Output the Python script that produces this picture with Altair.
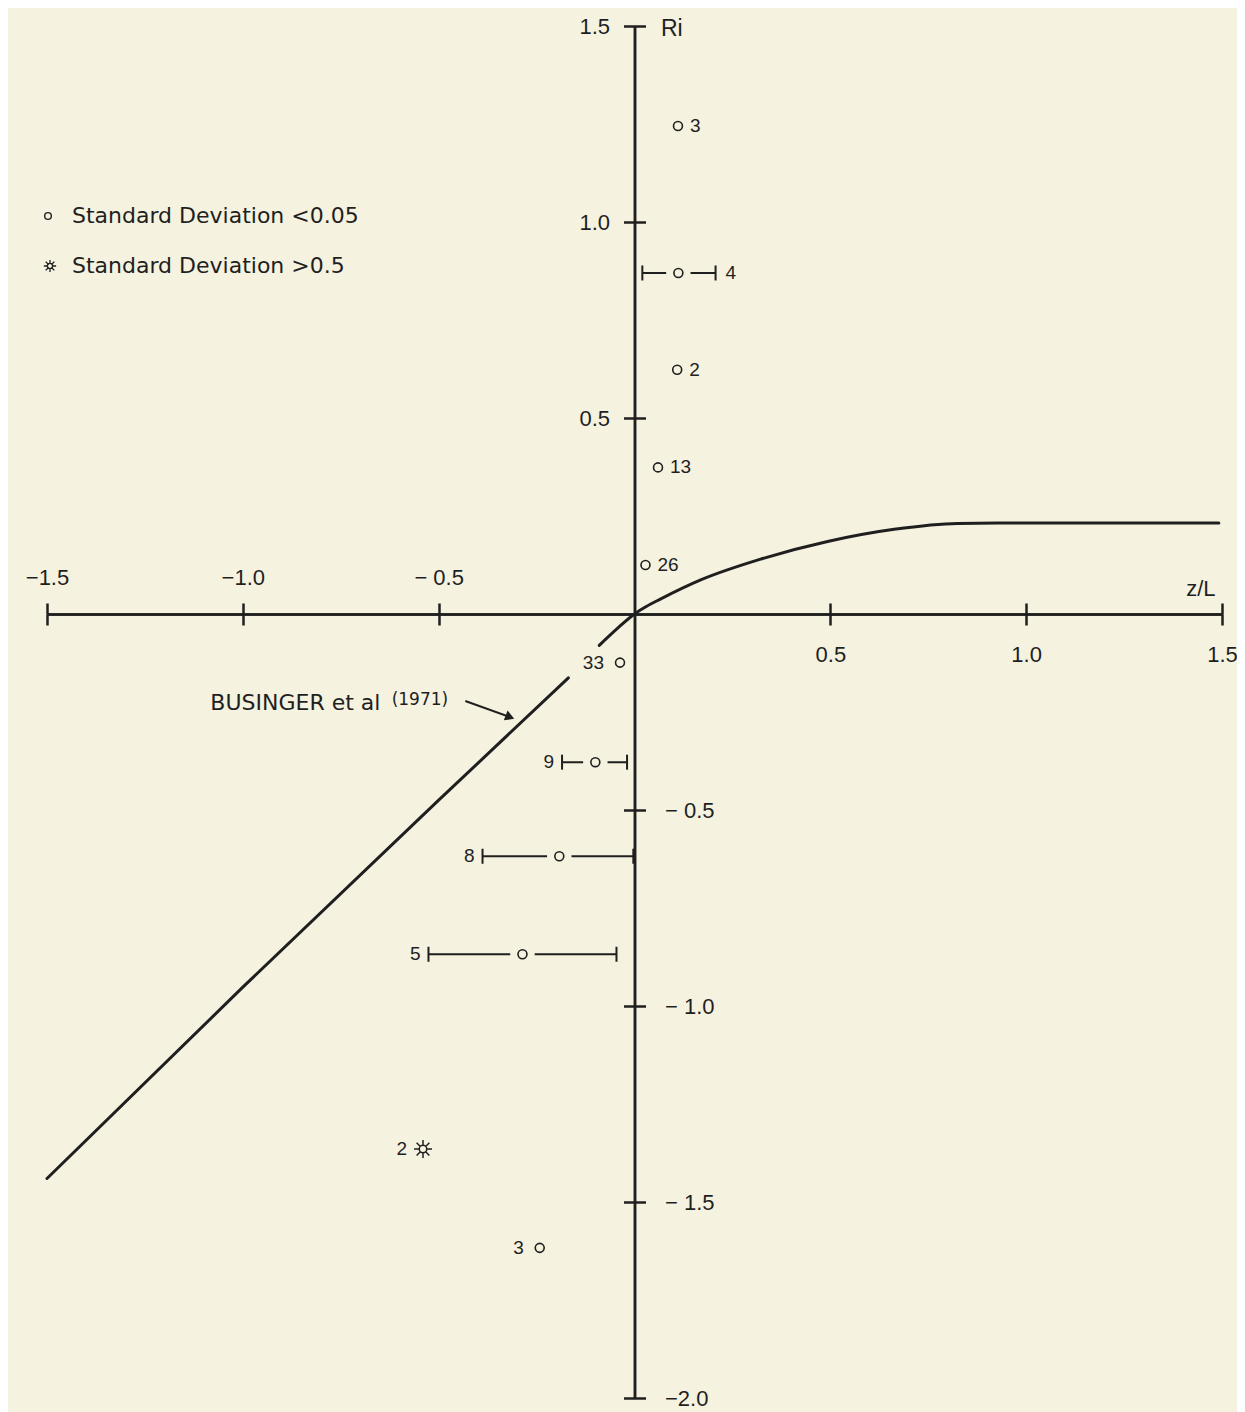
import altair as alt
import pandas as pd

BG = "#f5f2e0"
INK = "#1f1f1f"
NUM_FONT = "Liberation Sans"
TXT_FONT = "DejaVu Sans"

# ---- axis ticks / labels ----
x_tick_values = [-1.5, -1.0, -0.5, 0.5, 1.0, 1.5]
x_tick_labels = ["−1.5", "−1.0", "− 0.5", "0.5", "1.0", "1.5"]
y_tick_values = [1.5, 1.0, 0.5, -0.5, -1.0, -1.5, -2.0]
y_tick_labels = ["1.5", "1.0", "0.5", "− 0.5", "− 1.0", "− 1.5", "−2.0"]

# ---- observations (z/L, Ri) ----
run_ids = ["3", "4", "2", "13", "26", "33", "9", "8", "5", "2", "3"]
zL = [0.111, 0.112, 0.109, 0.060, 0.028, -0.037, -0.100, -0.192, -0.286, -0.540, -0.242]
Ri = [1.245, 0.870, 0.623, 0.374, 0.125, -0.124, -0.378, -0.618, -0.868, -1.365, -1.617]
zL_lo = [None, 0.020, None, None, None, None, -0.185, -0.388, -0.526, None, None]
zL_hi = [None, 0.207, None, None, None, None, -0.019, -0.003, -0.046, None, None]
std_class = ["low", "low", "low", "low", "low", "low", "low", "low", "low", "high", "low"]

# ---- Businger et al (1971) curve, traced (gap where label "33" sits) ----
curve_seg = ["a", "a", "a", "a", "b", "b", "b", "b", "b", "b", "b", "b", "b", "b", "b", "b"]
curve_x = [-1.5, -1.0, -0.5, -0.169, -0.09, -0.045, 0.0, 0.03, 0.066, 0.169, 0.322, 0.493, 0.663, 0.825, 1.0, 1.492]
curve_y = [-1.44, -0.952, -0.475, -0.163, -0.08, -0.038, 0.0, 0.019, 0.038, 0.087, 0.140, 0.185, 0.216, 0.231, 0.232, 0.232]

# ---- legend and annotation text ----
legend_labels = ["Standard Deviation <0.05", "Standard Deviation >0.5"]
ann_main = "BUSINGER et al"
ann_year = "(1971)"
ann_x = [-1.083]
ann_y = [-0.228]
year_x = [-0.62]
year_y = [-0.220]
arrow_x = [-0.432]
arrow_y = [-0.222]
arrow_x2 = [-0.318]
arrow_y2 = [-0.263]

STAR = ("M0.45,0L1,0M-0.45,0L-1,0M0,0.45L0,1M0,-0.45L0,-1"
        "M0.32,0.32L0.71,0.71M-0.32,-0.32L-0.71,-0.71"
        "M0.32,-0.32L0.71,-0.71M-0.32,0.32L-0.71,0.71"
        "M0.42,0A0.42,0.42 0 1,1 -0.42,0A0.42,0.42 0 1,1 0.42,0Z")

pts = pd.DataFrame({"run": run_ids, "zL": zL, "Ri": Ri, "lo": zL_lo, "hi": zL_hi, "cls": std_class})
pts["lo"] = pd.to_numeric(pts["lo"])
pts["hi"] = pd.to_numeric(pts["hi"])
pts["bar"] = pts["lo"].notna()
pts["anchor"] = pts["zL"]
pts.loc[(pts.zL > 0) & pts.bar, "anchor"] = pts["hi"]
pts.loc[(pts.zL < 0) & pts.bar, "anchor"] = pts["lo"]
bars = pts[pts.bar].copy()
caps = pd.concat([
    bars[["Ri"]].assign(cx=bars["lo"]),
    bars[["Ri"]].assign(cx=bars["hi"]),
])
curve = pd.DataFrame({"seg": curve_seg, "zL": curve_x, "Ri": curve_y})

W, H = 1175, 1372
xs = alt.Scale(domain=[-1.5, 1.5], nice=False, zero=False)
ys = alt.Scale(domain=[-2.0, 1.5], nice=False, zero=False)
ROW0 = H * 1.5 / 3.5   # pixel row of Ri = 0 (from top)
COL0 = W * 1.5 / 3.0   # pixel column of z/L = 0 (from left)


def label_expr(values, labels, keep):
    expr = "''"
    for v, l in reversed(list(zip(values, labels))):
        if keep(v):
            expr = f"datum.value == {v} ? '{l}' : ({expr})"
    return expr


common_axis = dict(
    domainColor=INK, domainWidth=2.5, tickColor=INK, tickWidth=2.5, tickSize=11,
    grid=False, labelFont=NUM_FONT, labelFontSize=22, labelColor=INK,
    labelOverlap=False, labelFlush=False, labelBound=False,
)

x_top = alt.Axis(orient="top", offset=-ROW0, values=x_tick_values,
                 labelExpr=label_expr(x_tick_values, x_tick_labels, lambda v: v < 0),
                 labelPadding=14, title="z/L", titleX=1168, titleY=-26,
                 titleAlign="right", titleBaseline="middle", titleAngle=0,
                 titleFont=NUM_FONT, titleFontSize=22, titleFontWeight="normal",
                 titleColor=INK, **common_axis)
x_bottom = alt.Axis(orient="bottom", offset=-(H - ROW0), values=x_tick_values,
                    labelExpr=label_expr(x_tick_values, x_tick_labels, lambda v: v > 0),
                    labelPadding=19, title=None, **common_axis)
y_left = alt.Axis(orient="left", offset=-COL0, values=y_tick_values,
                  labelExpr=label_expr(y_tick_values, y_tick_labels, lambda v: v > 0),
                  labelPadding=14, title=None, **common_axis)
y_right = alt.Axis(orient="right", offset=-(W - COL0), values=y_tick_values,
                   labelExpr=label_expr(y_tick_values, y_tick_labels, lambda v: v < 0),
                   labelPadding=19, title="Ri", titleX=26, titleY=2,
                   titleAlign="left", titleBaseline="middle", titleAngle=0,
                   titleFont=NUM_FONT, titleFontSize=23, titleFontWeight="normal",
                   titleColor=INK, **common_axis)


def X(f, axis=None):
    return alt.X(f, type="quantitative", scale=xs, axis=axis)


def Y(f, axis=None):
    return alt.Y(f, type="quantitative", scale=ys, axis=axis)


curve_layer = alt.Chart(curve).mark_line(
    interpolate="monotone", strokeWidth=3, color=INK, strokeCap="round"
).encode(x=X("zL", x_top), y=Y("Ri", y_left), detail="seg:N")

bar_layer = alt.Chart(bars).mark_rule(strokeWidth=2, color=INK).encode(
    x=X("lo", x_bottom), x2="hi:Q", y=Y("Ri", y_right))

cap_layer = alt.Chart(caps).mark_tick(
    orient="vertical", size=15, thickness=2, color=INK, opacity=1
).encode(x=X("cx"), y=Y("Ri"))

halo_layer = alt.Chart(bars).mark_circle(size=600, color=BG, opacity=1).encode(
    x=X("zL"), y=Y("Ri"))

circle_layer = alt.Chart(pts[pts.cls == "low"]).mark_point(
    shape="circle", filled=False, size=80, strokeWidth=1.6, color=INK, opacity=1
).encode(x=X("zL"), y=Y("Ri"))

star_layer = alt.Chart(pts[pts.cls == "high"]).mark_point(
    shape=STAR, filled=False, size=324, strokeWidth=1.5, color=INK, opacity=1
).encode(x=X("zL"), y=Y("Ri"))


def labels(df, dx, align):
    return alt.Chart(df).mark_text(
        dx=dx, align=align, baseline="middle", font=NUM_FONT, fontSize=19, color=INK
    ).encode(x=X("anchor"), y=Y("Ri"), text="run:N")


lab_r_bar = labels(pts[(pts.zL > 0) & pts.bar], 10, "left")
lab_r = labels(pts[(pts.zL > 0) & ~pts.bar], 12, "left")
lab_l_bar = labels(pts[(pts.zL < 0) & pts.bar], -8, "right")
lab_l = labels(pts[(pts.zL < 0) & ~pts.bar], -16, "right")

ann_df = pd.DataFrame({"x": ann_x, "y": ann_y, "t": [ann_main]})
year_df = pd.DataFrame({"x": year_x, "y": year_y, "t": [ann_year]})
arrow_df = pd.DataFrame({"x": arrow_x, "y": arrow_y, "x2": arrow_x2, "y2": arrow_y2})

ann_layer = alt.Chart(ann_df).mark_text(
    align="left", baseline="middle", font=TXT_FONT, fontSize=22, color=INK
).encode(x=X("x"), y=Y("y"), text="t:N")
year_layer = alt.Chart(year_df).mark_text(
    align="left", baseline="middle", font=TXT_FONT, fontSize=17, color=INK
).encode(x=X("x"), y=Y("y"), text="t:N")
arrow_line = alt.Chart(arrow_df).mark_rule(strokeWidth=2, color=INK).encode(
    x=X("x"), y=Y("y"), x2="x2:Q", y2="y2:Q")
arrow_head = alt.Chart(arrow_df).mark_point(
    shape="triangle-right", angle=21, filled=True, size=110, color=INK, opacity=1
).encode(x=X("x2"), y=Y("y2"))

leg_df = pd.DataFrame({"t": legend_labels})
leg_circle = alt.Chart(leg_df.iloc[[0]]).mark_point(
    shape="circle", filled=False, size=45, strokeWidth=1.4, color=INK, opacity=1
).encode(x=alt.value(1), y=alt.value(190))
leg_star = alt.Chart(leg_df.iloc[[1]]).mark_point(
    shape=STAR, filled=False, size=150, strokeWidth=1.3, color=INK, opacity=1
).encode(x=alt.value(3), y=alt.value(240))
leg_t1 = alt.Chart(leg_df.iloc[[0]]).mark_text(
    align="left", baseline="middle", font=TXT_FONT, fontSize=22, color=INK
).encode(x=alt.value(25), y=alt.value(190), text="t:N")
leg_t2 = alt.Chart(leg_df.iloc[[1]]).mark_text(
    align="left", baseline="middle", font=TXT_FONT, fontSize=22, color=INK
).encode(x=alt.value(25), y=alt.value(240), text="t:N")

chart = alt.layer(
    curve_layer, bar_layer, cap_layer, halo_layer, circle_layer, star_layer,
    lab_r_bar, lab_r, lab_l_bar, lab_l,
    ann_layer, year_layer, arrow_line, arrow_head,
    leg_circle, leg_star, leg_t1, leg_t2,
).resolve_axis(x="independent", y="independent").properties(
    width=W, height=H,
    autosize=alt.AutoSizeParams(type="none"),
    padding={"left": 39, "top": 18, "right": 15, "bottom": 14},
    background=BG,
).configure_view(stroke=None)

chart.save("out.html", embed_options={"renderer": "svg", "actions": False})
